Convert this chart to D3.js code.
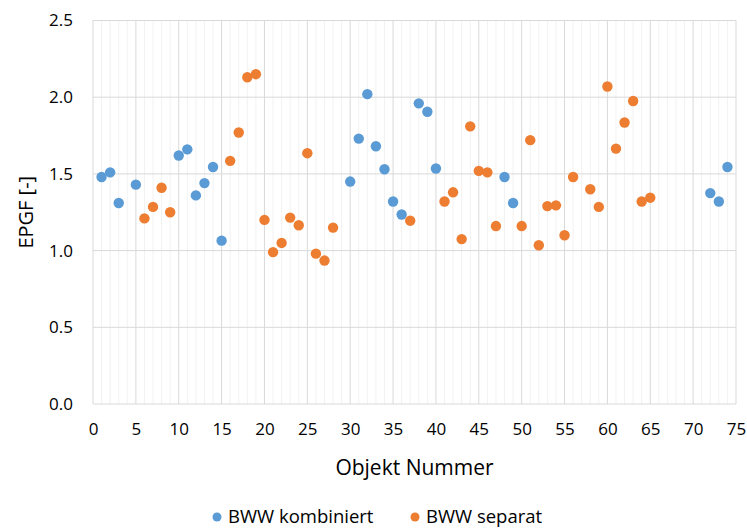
<!DOCTYPE html>
<html>
<head>
<meta charset="utf-8">
<script src="https://cdn.jsdelivr.net/npm/d3@7"></script>
<style>
  body { margin: 0; background: #fff; }
  svg text { font-family: "Open Sans", Lato, sans-serif; fill: #000; }
</style>
</head>
<body>
<div id="chart"></div>
<script>
// BWW kombiniert (blue)
const kombiniertObj = [1, 2, 3, 5, 10, 11, 12, 13, 14, 15, 30, 31, 32, 33, 34, 35, 36, 38, 39, 40, 48, 49, 72, 73, 74];
const kombiniertVal = [1.48, 1.51, 1.31, 1.43, 1.62, 1.66, 1.36, 1.44, 1.545, 1.065, 1.45, 1.73, 2.02, 1.68, 1.53, 1.32, 1.235, 1.96, 1.905, 1.535, 1.48, 1.31, 1.375, 1.32, 1.545];

// BWW separat (orange)
const separatObj = [6, 7, 8, 9, 16, 17, 18, 19, 20, 21, 22, 23, 24, 25, 26, 27, 28, 37, 41, 42, 43, 44, 45, 46, 47, 50, 51, 52, 53, 54, 55, 56, 58, 59, 60, 61, 62, 63, 64, 65];
const separatVal = [1.21, 1.285, 1.41, 1.25, 1.585, 1.77, 2.13, 2.15, 1.2, 0.99, 1.05, 1.215, 1.165, 1.635, 0.98, 0.935, 1.15, 1.195, 1.32, 1.38, 1.075, 1.81, 1.52, 1.51, 1.16, 1.16, 1.72, 1.035, 1.29, 1.295, 1.1, 1.48, 1.4, 1.285, 2.07, 1.665, 1.835, 1.975, 1.32, 1.345];

const xTicks = [0, 5, 10, 15, 20, 25, 30, 35, 40, 45, 50, 55, 60, 65, 70, 75];
const yTicks = [0, 0.5, 1.0, 1.5, 2.0, 2.5];

const series = [
  { name: "BWW kombiniert", color: "#5B9BD5", obj: kombiniertObj, val: kombiniertVal },
  { name: "BWW separat", color: "#ED7D31", obj: separatObj, val: separatVal }
];

const W = 747, H = 528;
const margin = { top: 20.5, right: 11, bottom: 124, left: 93 };
const width = W - margin.left - margin.right;
const height = H - margin.top - margin.bottom;

const svg = d3.select("#chart").append("svg")
  .attr("width", W)
  .attr("height", H);

const g = svg.append("g")
  .attr("transform", `translate(${margin.left},${margin.top})`);

const x = d3.scaleLinear().domain([0, 75]).range([0, width]);
const y = d3.scaleLinear().domain([0, 2.5]).range([height, 0]);

// minor vertical gridlines
g.append("g")
  .selectAll("line")
  .data(d3.range(0, 76).filter(d => d % 5 !== 0))
  .enter().append("line")
  .attr("x1", d => x(d)).attr("x2", d => x(d))
  .attr("y1", 0).attr("y2", height)
  .attr("stroke", "#f2f2f2")
  .attr("stroke-width", 1);

// major vertical gridlines
g.append("g")
  .selectAll("line")
  .data(xTicks)
  .enter().append("line")
  .attr("x1", d => x(d)).attr("x2", d => x(d))
  .attr("y1", 0).attr("y2", height)
  .attr("stroke", "#d9d9d9")
  .attr("stroke-width", 1);

// horizontal gridlines
g.append("g")
  .selectAll("line")
  .data(yTicks)
  .enter().append("line")
  .attr("x1", 0).attr("x2", width)
  .attr("y1", d => y(d)).attr("y2", d => y(d))
  .attr("stroke", "#d9d9d9")
  .attr("stroke-width", 1);

// axes (labels only)
const yAxis = g.append("g")
  .call(d3.axisLeft(y).tickValues(yTicks).tickFormat(d3.format(".1f")).tickSize(0).tickPadding(20));
yAxis.select(".domain").remove();
yAxis.selectAll("text").style("font-size", "17px");

const xAxis = g.append("g")
  .attr("transform", `translate(0,${height})`)
  .call(d3.axisBottom(x).tickValues(xTicks).tickSize(0).tickPadding(19));
xAxis.select(".domain").remove();
xAxis.selectAll("text").style("font-size", "17px");

// axis titles
svg.append("text")
  .attr("x", margin.left + width / 2)
  .attr("y", 475)
  .attr("text-anchor", "middle")
  .style("font-size", "21px")
  .text("Objekt Nummer");

svg.append("text")
  .attr("transform", `translate(33,${margin.top + height / 2}) rotate(-90)`)
  .attr("text-anchor", "middle")
  .style("font-size", "20px")
  .text("EPGF [-]");

// points
series.forEach(s => {
  g.append("g")
    .selectAll("circle")
    .data(s.obj.map((o, i) => [o, s.val[i]]))
    .enter().append("circle")
    .attr("cx", d => x(d[0]))
    .attr("cy", d => y(d[1]))
    .attr("r", 5.2)
    .attr("fill", s.color);
});

// legend
const legendPos = [217, 415];
series.forEach((s, i) => {
  const lg = svg.append("g").attr("transform", `translate(${legendPos[i]},517)`);
  lg.append("circle").attr("r", 4.5).attr("fill", s.color);
  lg.append("text")
    .attr("x", 11)
    .attr("y", 6)
    .style("font-size", "18.5px")
    .text(s.name);
});
</script>
</body>
</html>
